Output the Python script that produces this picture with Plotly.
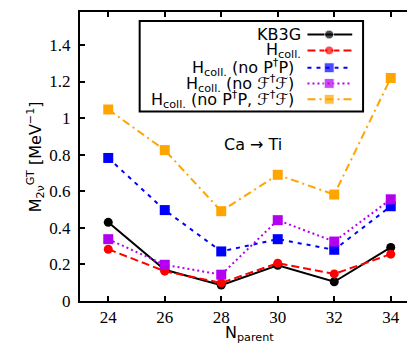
import plotly.graph_objects as go

# data
n_parent = [24, 26, 28, 30, 32, 34]
kb3g = [0.430, 0.171, 0.087, 0.195, 0.105, 0.293]
hcoll = [0.283, 0.163, 0.099, 0.207, 0.148, 0.256]
hcoll_no_pp = [0.782, 0.497, 0.271, 0.338, 0.280, 0.518]
hcoll_no_ff = [0.338, 0.198, 0.144, 0.442, 0.325, 0.556]
hcoll_no_both = [1.047, 0.825, 0.491, 0.690, 0.582, 1.219]

names = [
    "KB3G",
    "H<sub>coll.</sub>",
    "H<sub>coll.</sub> (no P<sup>†</sup>P)",
    "H<sub>coll.</sub> (no ℱ<sup>†</sup>ℱ)",
    "H<sub>coll.</sub> (no P<sup>†</sup>P, ℱ<sup>†</sup>ℱ)",
]
series = [kb3g, hcoll, hcoll_no_pp, hcoll_no_ff, hcoll_no_both]
colors = ["#000000", "#ff0000", "#0000ff", "#b400f0", "#ffa500"]
dashes = ["solid", "8px,4px", "4px,5px", "2px,3px", "8px,4px,2px,4px"]
symbols = ["circle", "circle", "square", "square", "square"]
msizes = [9, 9, 10, 10, 10]

sans = "DejaVu Sans"
serif = "Liberation Serif"

fig = go.Figure()
for ys, c, d, s, m in zip(series, colors, dashes, symbols, msizes):
    fig.add_trace(go.Scatter(
        x=n_parent, y=ys, mode="lines+markers", showlegend=False,
        line=dict(color=c, width=2, dash=d),
        marker=dict(color=c, symbol=s, size=m),
    ))

# hand-made key (gnuplot style: text on the left, sample on the right)
key_rows = [0.922, 0.867, 0.807, 0.753, 0.698]
key_text_x = [0.659, 0.659, 0.638, 0.638, 0.638]
key_x = [0.671, 0.735, 0.803]
for y, tx, name, c, d, s, m in zip(key_rows, key_text_x, names, colors, dashes, symbols, msizes):
    fig.add_trace(go.Scatter(
        x=key_x, y=[y] * 3, xaxis="x2", yaxis="y2", mode="lines+markers",
        showlegend=False, hoverinfo="skip",
        line=dict(color=c, width=2, dash=d),
        marker=dict(color=c, symbol=s, size=[0, m, 0]),
    ))
    fig.add_annotation(x=tx, y=y, xref="paper", yref="paper", text=name,
                       showarrow=False, xanchor="right", yanchor="middle",
                       font=dict(family=sans, size=16, color="black"))

fig.add_shape(type="rect", xref="paper", yref="paper", x0=0.176, x1=0.835,
              y0=0.656, y1=0.969, line=dict(color="black", width=2),
              fillcolor="white", layer="below")

fig.add_annotation(x=0.509, y=0.54, xref="paper", yref="paper", text="Ca → Ti",
                   showarrow=False, font=dict(family=sans, size=16, color="black"))
fig.add_annotation(x=-0.17, y=0.5, xref="paper", yref="paper",
                   text="M<sub>2ν</sub><sup>GT</sup> [MeV<sup>−1</sup>]",
                   showarrow=False, textangle=-90,
                   font=dict(family=sans, size=16, color="black"))
fig.add_annotation(x=0.5, y=-0.155, xref="paper", yref="paper",
                   text="N<sub>parent</sub>", showarrow=False,
                   font=dict(family=sans, size=16, color="black"))

axis_style = dict(showline=True, linecolor="black", linewidth=2, mirror="ticks",
                  ticks="inside", ticklen=5, tickwidth=2, tickcolor="black",
                  showgrid=False, zeroline=False,
                  tickfont=dict(family=serif, size=17, color="black"))

fig.update_layout(
    width=415, height=348,
    margin=dict(l=72, r=3, t=2, b=55),
    plot_bgcolor="white", paper_bgcolor="white",
    xaxis=dict(range=[23, 35], tickvals=n_parent, ticklabelstandoff=0, **axis_style),
    yaxis=dict(range=[0, 1.58], tickvals=[0, 0.2, 0.4, 0.6, 0.8, 1, 1.2, 1.4],
               ticklabelstandoff=4, **axis_style),
    xaxis2=dict(range=[0, 1], overlaying="x", visible=False),
    yaxis2=dict(range=[0, 1], overlaying="y", visible=False),
)

fig.write_html("out.html")
